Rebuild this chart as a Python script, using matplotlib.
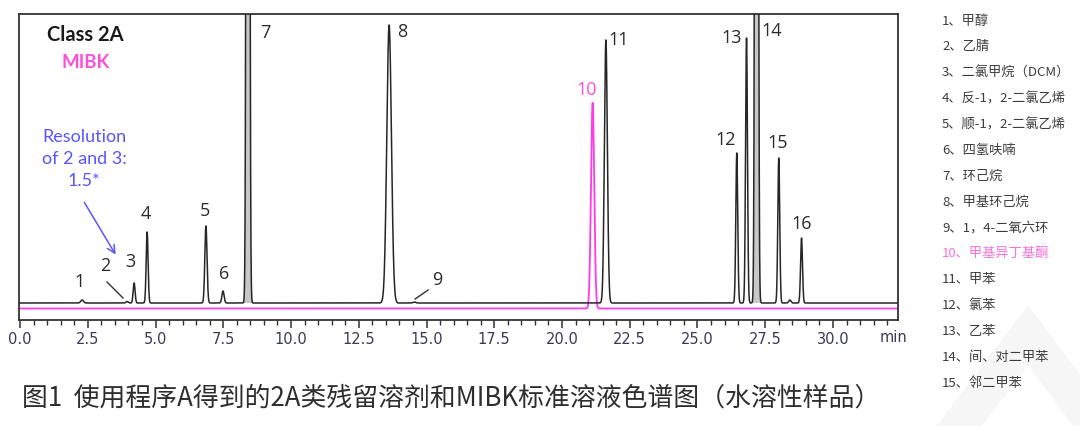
import numpy as np
import matplotlib
matplotlib.use("Agg")
import matplotlib.pyplot as plt
from matplotlib.lines import Line2D

# ---------------- data ----------------
peak_ids = ["1", "2", "3", "4", "5", "6", "7", "8", "9", "11", "12", "13", "14", "15", "", "16"]
peak_rt = [2.29, 3.95, 4.21, 4.69, 6.86, 7.49, 8.41, 13.62, 14.55, 21.62, 26.45, 26.81, 27.18, 28.00, 28.41, 28.84]
peak_height = [3, 1.5, 20, 71, 77, 12, 3000, 278, 1, 263, 150, 265, 3000, 145, 3, 65]
peak_sigma = [0.05, 0.04, 0.035, 0.035, 0.04, 0.04, 0.04, 0.085, 0.05, 0.055, 0.035, 0.035, 0.04, 0.035, 0.04, 0.035]
overloaded_ids = ["7", "14"]

mibk_ids = ["10"]
mibk_rt = [21.13]
mibk_height = [205.7]
mibk_sigma = [0.06]

black_baseline = 17.0
magenta_baseline = 11.5

xtick_major = [0.0, 2.5, 5.0, 7.5, 10.0, 12.5, 15.0, 17.5, 20.0, 22.5, 25.0, 27.5, 30.0]
xtick_labels = ["0.0", "2.5", "5.0", "7.5", "10.0", "12.5", "15.0", "17.5", "20.0", "22.5", "25.0", "27.5", "30.0"]

legend_items = [
    "1、甲醇", "2、乙腈", "3、二氯甲烷（DCM）", "4、反-1，2-二氯乙烯", "5、顺-1，2-二氯乙烯",
    "6、四氢呋喃", "7、环己烷", "8、甲基环己烷", "9、1，4-二氧六环", "10、甲基异丁基酮",
    "11、甲苯", "12、氯苯", "13、乙苯", "14、间、对二甲苯", "15、邻二甲苯",
]
caption = "图1  使用程序A得到的2A类残留溶剂和MIBK标准溶液色谱图（水溶性样品）"

# ---------------- label placement (positions only) ----------------
label_pos = {
    "1": (2.21, 38), "2": (3.14, 54), "3": (4.06, 58), "4": (4.65, 106),
    "5": (6.83, 109), "6": (7.53, 46), "7": (9.04, 287), "8": (14.10, 288),
    "9": (15.39, 40), "10": (20.92, 230), "11": (22.10, 280), "12": (26.05, 180),
    "13": (26.27, 282), "14": (27.75, 289), "15": (27.97, 177), "16": (28.86, 96),
}

BLACK = "#262626"
MAGENTA = "#ff3ae6"
PINK_TXT = "#ff4fd8"
BLUE = "#5a55ff"
NUMFONT = ["Open Sans", "DejaVu Sans"]
CJK = ["Noto Sans CJK SC", "DejaVu Sans"]

W, H = 1080, 426
fig = plt.figure(figsize=(W / 100, H / 100), dpi=100)
fig.patch.set_facecolor("white")

# faint watermark chevron bottom-right
fig.add_artist(Line2D([945 / W, 1028 / W, 1095 / W], [1 - 445 / H, 1 - 335 / H, 1 - 425 / H],
                      transform=fig.transFigure, color="#f6f6f6", lw=26, solid_joinstyle="miter", zorder=0))

x0, x1 = -0.02, 32.4
ax = fig.add_axes([19.5 / W, (H - 320) / H, (898 - 19.5) / W, (320 - 14) / H])
ax.set_xlim(x0, x1)
ax.set_ylim(0, 306)
ax.set_facecolor("none")

t = np.linspace(x0, x1, 12000)
black = np.full_like(t, black_baseline)
for rt, h, s in zip(peak_rt, peak_height, peak_sigma):
    black = black + h * np.exp(-0.5 * ((t - rt) / s) ** 2)
mag = np.full_like(t, magenta_baseline)
for rt, h, s in zip(mibk_rt, mibk_height, mibk_sigma):
    mag = mag + h * np.exp(-0.5 * ((t - rt) / s) ** 2)

# light grey interior of the overloaded peaks
for pid in overloaded_ids:
    i = peak_ids.index(pid)
    m = np.abs(t - peak_rt[i]) < 4 * peak_sigma[i]
    ax.fill_between(t, black_baseline, black, where=m, color="#c8c8c8", lw=0, zorder=1)

ax.plot(t, mag, color=MAGENTA, lw=1.3, zorder=2)
ax.plot(t, black, color=BLACK, lw=1.1, zorder=3)

# peak numbers
for pid, (lx, ly) in label_pos.items():
    col = PINK_TXT if pid in mibk_ids else "#2b2b2b"
    ax.text(lx, ly, pid, ha="center", va="center", fontsize=13, color=col, family=NUMFONT,
            fontweight="medium", zorder=5)

# leader lines for 2 and 9
ax.plot([3.21, 3.80], [38, 22], color="#333333", lw=1.0)
ax.plot([15.06, 14.58], [30, 21], color="#333333", lw=1.0)

# headings
ax.text(2.40, 285, "Class 2A", ha="center", va="center", fontsize=14.5, fontweight="bold",
        color="#1a1a1a", family=["Lato", "DejaVu Sans"])
ax.text(2.44, 257, "MIBK", ha="center", va="center", fontsize=13.5, fontweight="bold",
        color=PINK_TXT, family=["Lato", "DejaVu Sans"])
ax.text(2.36, 161, "Resolution\nof 2 and 3:\n1.5*", ha="center", va="center", fontsize=13,
        color=BLUE, family=["Lato", "DejaVu Sans"], linespacing=1.5)
ax.annotate("", xy=(3.58, 63), xytext=(2.32, 120),
            arrowprops=dict(arrowstyle="->", color=BLUE, lw=1.1, mutation_scale=14))

# axes styling
for sp in ax.spines.values():
    sp.set_color("#333333")
    sp.set_linewidth(1.3)
ax.set_yticks([])
ax.set_xticks(xtick_major)
ax.set_xticklabels(xtick_labels, family=["Liberation Sans Narrow", "DejaVu Sans"], fontsize=10.5, color="#3a3a55")
ax.set_xticks(np.arange(0, 32.01, 0.5), minor=True)
ax.tick_params(axis="x", which="major", direction="out", length=6, width=1.1, pad=3, color="#333333")
ax.tick_params(axis="x", which="minor", direction="out", length=3.5, width=1.0, color="#333333")
fig.text(894 / W, 1 - 337 / H, "min", ha="center", va="center", fontsize=10.5, color="#3a3a55",
         family=["Liberation Sans Narrow", "DejaVu Sans"])

# compound list
for i, item in enumerate(legend_items):
    col = "#ff6fe0" if item.startswith("10、") else "#3c3c3c"
    fig.text(942 / W, 1 - (21 + 25.86 * i) / H, item, ha="left", va="center", fontsize=9.5,
             color=col, family=CJK)

# caption
fig.text(22 / W, 1 - 398 / H, caption, ha="left", va="center", fontsize=18.6, color="#2e2e2e", family=CJK)

fig.savefig("out.png", dpi=100)
